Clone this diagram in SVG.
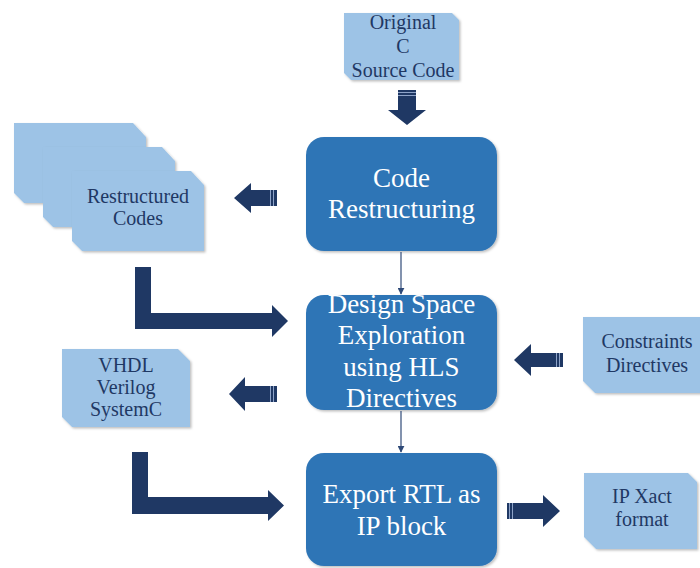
<svg xmlns="http://www.w3.org/2000/svg" width="700" height="568" viewBox="0 0 700 568">
<defs>
<filter id="sh" x="-10%" y="-10%" width="130%" height="130%"><feDropShadow dx="1.5" dy="1.5" stdDeviation="1" flood-color="#000" flood-opacity="0.25"/></filter>
<marker id="ah" viewBox="0 0 10 10" refX="9" refY="5" markerWidth="7" markerHeight="7" orient="auto" markerUnits="userSpaceOnUse"><path d="M0,0 L10,5 L0,10 Z" fill="#2f4a78"/></marker>
<style>
.big{fill:#2e75b6;filter:url(#sh)}
.doc{fill:#9dc3e6;filter:url(#sh)}
.bt{font-family:"Liberation Serif","DejaVu Serif",serif;font-size:27px;fill:#ffffff;text-anchor:middle}
.st{font-family:"Liberation Serif","DejaVu Serif",serif;font-size:20px;fill:#1f3864;text-anchor:middle}
.arr{fill:#1f3864}
.strp{stroke:#8ea3c8;stroke-width:1}
.con{stroke:#2f4a78;stroke-width:1.2;fill:none}
</style>
</defs>
<rect width="700" height="568" fill="#ffffff"/>

<g id="original-c">
<path class="doc" d="M344,13 H452 L459,20 V80 H351 L344,73 Z"/>
<text class="st" x="403" y="29">Original</text>
<text class="st" x="403" y="53">C</text>
<text class="st" x="403" y="77">Source Code</text>
</g>

<g id="restructured-codes">
<path class="doc" d="M14,123 H133 L146,137 V203 H24 L14,193 Z"/>
<path class="doc" d="M43,147 H162 L175,161 V227 H53 L43,217 Z"/>
<path class="doc" d="M72,171 H191 L204,185 V251 H82 L72,241 Z"/>
<text class="st" x="138" y="203">Restructured</text>
<text class="st" x="138" y="225">Codes</text>
</g>

<g id="vhdl">
<path class="doc" d="M62,349 H178 L190,361 V427 H72 L62,417 Z"/>
<text class="st" x="126" y="372">VHDL</text>
<text class="st" x="126" y="394">Verilog</text>
<text class="st" x="126" y="416">SystemC</text>
</g>

<g id="constraints">
<path class="doc" d="M583,317 H704 V393 H595 L583,381 Z"/>
<text class="st" x="647" y="348">Constraints</text>
<text class="st" x="647" y="372">Directives</text>
</g>

<g id="ipxact">
<path class="doc" d="M584,473 H688 L697,482 V549 H596 L584,537 Z"/>
<text class="st" x="642" y="503">IP Xact</text>
<text class="st" x="642" y="526">format</text>
</g>

<g id="code-restructuring">
<rect class="big" x="306" y="137" width="191" height="114" rx="18"/>
<text class="bt" x="401.5" y="187">Code</text>
<text class="bt" x="401.5" y="218">Restructuring</text>
</g>

<g id="dse">
<rect class="big" x="306" y="295" width="191" height="115" rx="18"/>
<text class="bt" x="401.5" y="313">Design Space</text>
<text class="bt" x="401.5" y="344">Exploration</text>
<text class="bt" x="401.5" y="376">using HLS</text>
<text class="bt" x="401.5" y="407">Directives</text>
</g>

<g id="export-rtl">
<rect class="big" x="306" y="453" width="191" height="113" rx="18"/>
<text class="bt" x="401.5" y="503">Export RTL as</text>
<text class="bt" x="401.5" y="535">IP block</text>
</g>

<g id="connectors">
<line class="con" x1="401" y1="252" x2="401" y2="294" marker-end="url(#ah)"/>
<line class="con" x1="401" y1="411" x2="401" y2="452" marker-end="url(#ah)"/>
<path class="arr" d="M398,90 H416 V110 H426 L407,125 L388,110 H398 Z"/>
<line class="strp" x1="398" y1="92.5" x2="416" y2="92.5"/>
<line class="strp" x1="398" y1="95.5" x2="416" y2="95.5"/>
<path class="arr" d="M277,190 H251 V183 L234,198 L251,213 V206 H277 Z"/>
<line class="strp" x1="270.5" y1="190" x2="270.5" y2="206"/>
<line class="strp" x1="273.5" y1="190" x2="273.5" y2="206"/>
<path class="arr" d="M277,386 H245 V377 L229,394 L245,411 V402 H277 Z"/>
<line class="strp" x1="270.5" y1="386" x2="270.5" y2="402"/>
<line class="strp" x1="273.5" y1="386" x2="273.5" y2="402"/>
<path class="arr" d="M563,353 H531 V344 L514,360 L531,376 V367 H563 Z"/>
<line class="strp" x1="556.5" y1="353" x2="556.5" y2="367"/>
<line class="strp" x1="559.5" y1="353" x2="559.5" y2="367"/>
<path class="arr" d="M507,503 H543 V495 L560,511 L543,527 V519 H507 Z"/>
<line class="strp" x1="509.5" y1="503" x2="509.5" y2="519"/>
<line class="strp" x1="512.5" y1="503" x2="512.5" y2="519"/>
<path class="arr" d="M135,267 H151 V313 H272 V305 L288,321 L272,337 V329 H135 Z"/>
<path class="arr" d="M132,452 H148 V497 H268 V490 L284,505.5 L268,521 V514 H132 Z"/>
</g>
</svg>
